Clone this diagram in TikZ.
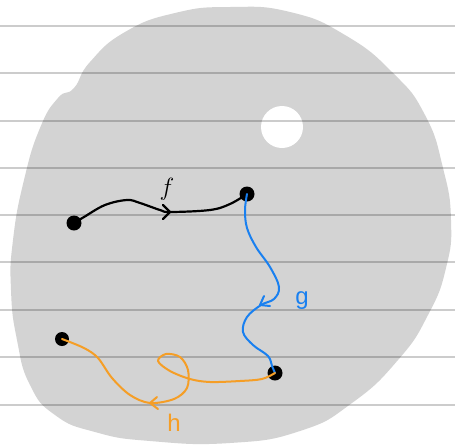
\documentclass[tikz,border=0pt]{standalone}
\usepackage{fontspec}
\setsansfont{Liberation Sans}
\definecolor{blobgray}{RGB}{211,211,211}
\definecolor{gblue}{RGB}{25,128,240}
\definecolor{horange}{RGB}{245,158,38}
\tikzset{
  dot/.style={circle,fill=black,inner sep=0pt,minimum size=15pt},
  ruled/.style={line width=1.8pt,black,opacity=0.2},
  fpath/.style={line width=2.2pt,black,line cap=round,line join=round},
  gpath/.style={line width=2pt,gblue,line cap=round,line join=round},
  hpath/.style={line width=2pt,horange,line cap=round,line join=round},
  lbl/.style={inner sep=0pt,font=\sffamily\fontsize{24}{28}\selectfont}
}
\begin{document}
\begin{tikzpicture}[x=1pt,y=-1pt]
\useasboundingbox (0,0) rectangle (455,445);
% blob
\fill[blobgray] plot[smooth cycle,tension=0.85] coordinates {
 (230,7) (290,12) (345,35) (393,73) (425,115) (443,168) (451,220)
 (446,268) (428,315) (398,360) (352,403) (300,431) (230,443)
 (150,441) (95,432) (55,415) (30,385) (17,340) (11,290) (13,240)
 (24,180) (40,128) (58,98) (74,88) (90,62) (125,32) (175,13)};
\fill[white] (282,127) circle[radius=21];
% ruled lines
\foreach \yy in {26,73,121,168,215,262,310,357,405}
  \draw[ruled] (0,\yy) -- (455,\yy);
% points
\node[dot] (A) at (74,223) {};
\node[dot] (B) at (247,194) {};
\node[dot] (C) at (275,373) {};
\node[dot,minimum size=14pt] (D) at (62,339) {};
% f
\draw[fpath] plot[smooth,tension=0.6] coordinates {(A.center) (84,217) (105,205) (127,200) (140,203) (160,210) (170,212) (210,210) (230,204) (B.center)};
\draw[fpath] (163,205) -- (170,212) -- (163,219);
\node[inner sep=0pt,font=\fontsize{30}{34}\selectfont] (flbl) at (167,189) {$f$};
% g
\draw[gpath] plot[smooth,tension=0.6] coordinates {(B.center) (245,210) (247,228) (256,247) (270,267) (279,287) (274,299) (261,305) (247,317) (243,332) (253,345) (268,356) (272,366) (C.center)};
\draw[gpath] (264,296) -- (260,305) -- (270,306);
\node[lbl,text=gblue] (glbl) at (302,301) {g};
% h
\draw[hpath] plot[smooth,tension=0.55] coordinates {(C.center) (262,379) (240,381) (210,382) (190,379) (170,371) (158,361) (166,354) (180,357) (188,370) (187,388) (174,399) (150,403) (130,395) (112,378) (98,358) (84,348) (D.center)};
\draw[hpath] (157,397) -- (150,403) -- (158,409);
\node[lbl,text=horange] (hlbl) at (174,423) {h};
\end{tikzpicture}
\end{document}
